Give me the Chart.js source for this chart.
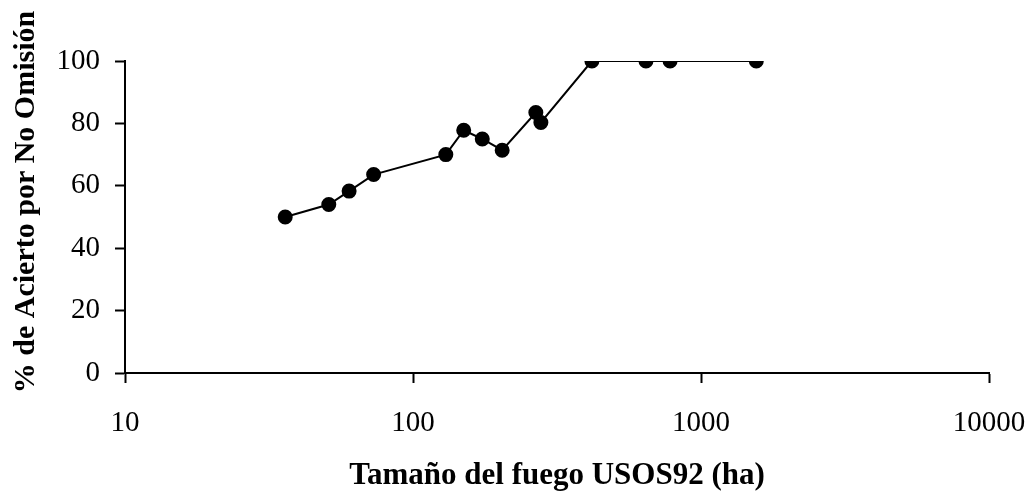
<!DOCTYPE html>
<html>
<head>
<meta charset="utf-8">
<script src="https://cdn.jsdelivr.net/npm/chart.js@4.4.1/dist/chart.umd.min.js"></script>
<style>
  html, body { margin: 0; padding: 0; background: #fff; }
  #wrap { width: 1031px; height: 495px; }
</style>
</head>
<body>
<div id="wrap"><canvas id="chart" width="1031" height="495"></canvas></div>
<script>
// fire size (ha) and hit rate (%)
var fireSize = [36, 51, 60, 73, 130, 150, 174, 204, 267, 278, 418, 644, 781, 1556];
var hitRate = [50, 54, 58.3, 63.6, 70, 77.8, 75, 71.4, 83.5, 80.3, 100, 100, 100, 100];
var xTicks = [10, 100, 1000, 10000];
var yTicks = [0, 20, 40, 60, 80, 100];

var points = [];
for (var i = 0; i < fireSize.length; i++) {
	points.push({x: fireSize[i], y: hitRate[i]});
}

var serif = 'Liberation Serif, Times New Roman, serif';

var chart = new Chart(document.getElementById('chart'), {
	type: 'line',
	data: {
		datasets: [{
			data: points,
			borderColor: '#000',
			backgroundColor: '#000',
			borderWidth: 2,
			pointRadius: 6.5,
			pointHoverRadius: 6.5,
			pointBackgroundColor: '#000',
			pointBorderColor: '#000',
			tension: 0
		}]
	},
	options: {
		responsive: false,
		animation: false,
		layout: {
			padding: {left: 0, right: 42, top: 61, bottom: 0}
		},
		plugins: {
			legend: {display: false},
			tooltip: {enabled: false}
		},
		scales: {
			x: {
				type: 'logarithmic',
				min: 10,
				max: 10000,
				afterBuildTicks: function(axis){
					axis.ticks = xTicks.map(function(v){ return {value: v}; });
				},
				afterFit: function(axis){
					axis.height = 495 - 373;
					// the end labels may hang past the axis
					axis.paddingLeft = 0;
					axis.paddingRight = 0;
				},
				border: {color: '#000', width: 2},
				grid: {
					drawOnChartArea: false,
					drawTicks: true,
					tickLength: 10,
					tickColor: '#000',
					tickWidth: 2
				},
				ticks: {
					color: '#000',
					font: {family: serif, size: 29},
					padding: 23,
					maxRotation: 0,
					autoSkip: false,
					callback: function(v){ return String(v); }
				},
				title: {
					display: true,
					text: 'Tamaño del fuego USOS92 (ha)',
					color: '#000',
					font: {family: serif, size: 31, weight: 'bold'},
					padding: {top: 0, bottom: 0}
				}
			},
			y: {
				min: 0,
				max: 100,
				afterBuildTicks: function(axis){
					axis.ticks = yTicks.map(function(v){ return {value: v}; });
				},
				afterFit: function(axis){
					axis.width = 125;
					axis.paddingTop = 0;
					axis.paddingBottom = 0;
				},
				border: {color: '#000', width: 2},
				grid: {
					drawOnChartArea: false,
					drawTicks: true,
					tickLength: 10,
					tickColor: '#000',
					tickWidth: 2
				},
				ticks: {
					color: '#000',
					font: {family: serif, size: 29},
					padding: 15
				},
				title: {
					display: true,
					// leading spaces nudge the rotated title toward the top
					text: '\u00a0\u00a0\u00a0\u00a0% de Acierto por No Omisión',
					color: '#000',
					font: {family: serif, size: 30, weight: 'bold'},
					padding: {top: 8, bottom: 0}
				}
			}
		}
	}
});
</script>
</body>
</html>
